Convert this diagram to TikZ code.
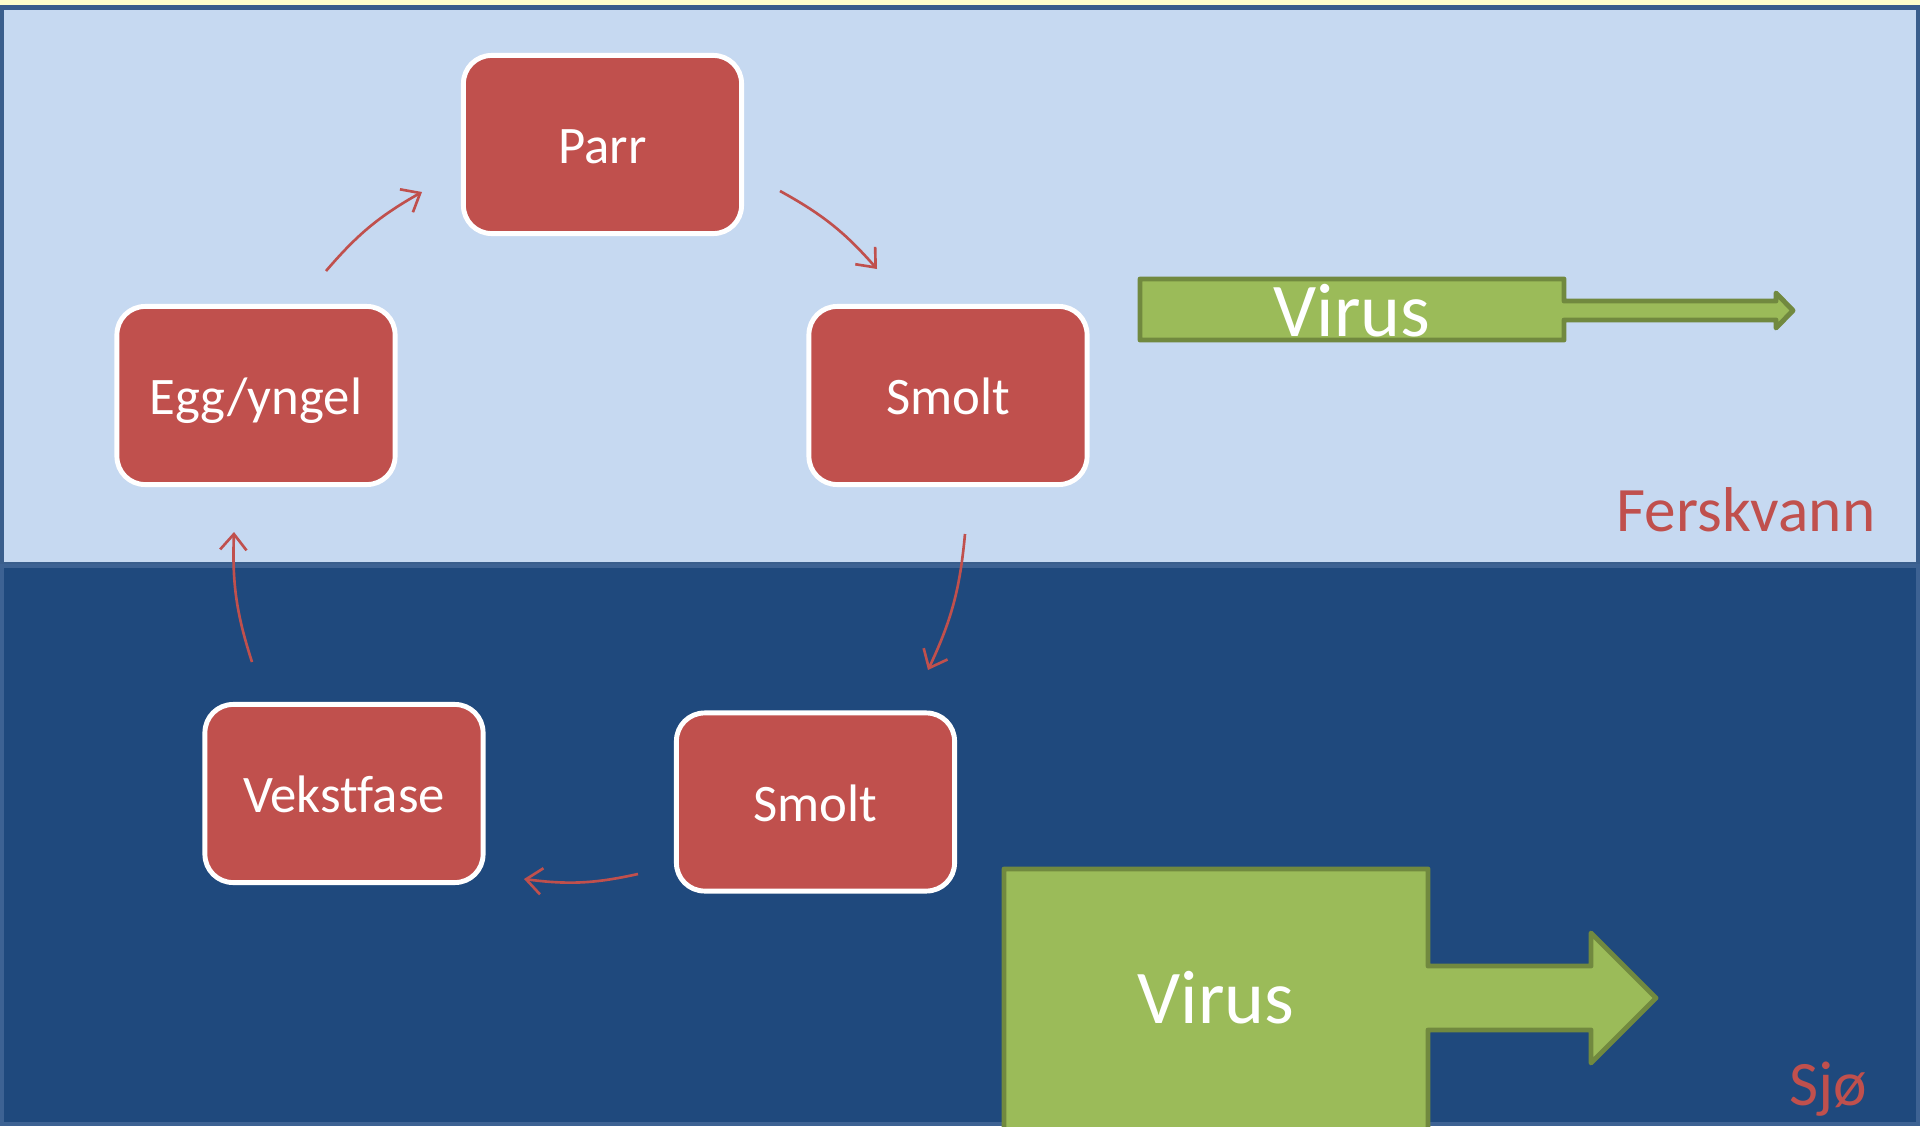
\documentclass[tikz,border=0pt]{standalone}
\usepackage{fontspec}
\setmainfont{Carlito}[Ligatures=NoCommon]
\usetikzlibrary{arrows.meta}
\definecolor{topfill}{HTML}{C6D9F1}
\definecolor{topline}{HTML}{3A5E8C}
\definecolor{seafill}{HTML}{1F497D}
\definecolor{sealine}{HTML}{3D6293}
\definecolor{stripe}{HTML}{FFFFCC}
\definecolor{stage}{HTML}{C0504D}
\definecolor{virusfill}{HTML}{9BBB59}
\definecolor{virusline}{HTML}{71893F}
\begin{document}
\begin{tikzpicture}[x=0.01cm,y=-0.01cm,
  stagebox/.style={draw=white, line width=1.4pt, fill=stage, rounded corners=8pt,
    minimum width=2.78cm, minimum height=1.78cm, text=white, inner sep=0pt,
    font=\fontsize{15pt}{18pt}\selectfont, text height=10.9pt, text depth=0pt},
  cyc/.style={draw=stage, line width=0.75pt, -{Straight Barb[length=4.5pt,width=7.5pt]}, bend left=10},
  virus/.style={fill=virusfill, draw=virusline, line width=1.4pt, line join=round},
  virustext/.style={text=white, font=\fontsize{21.6pt}{26pt}\selectfont, anchor=base, inner sep=0pt},
  zone/.style={text=stage, font=\fontsize{18pt}{22pt}\selectfont, anchor=base east, inner sep=0pt}]
\useasboundingbox (0,0) rectangle (1920,1127);
\begin{scope}
\clip (0,0) rectangle (1920,1127);
\fill[stripe] (0,0) rectangle (1920,6);
\draw[fill=topfill, draw=topline, line width=1.4pt] (1.5,7.5) rectangle (1918,564);
\draw[fill=seafill, draw=sealine, line width=1.2pt] (1.5,566) rectangle (1918,1124);
% virus arrows
\draw[virus] (1140,279) -- (1564,279) -- (1564,301) -- (1776,301) -- (1776,293) -- (1793,310.5)
  -- (1776,328) -- (1776,320) -- (1564,320) -- (1564,340) -- (1140,340) -- cycle;
\node[virustext] (v1) at (1352,336) {Virus};
\draw[virus] (1004,869) -- (1428,869) -- (1428,966) -- (1591,966) -- (1591,933) -- (1656,998)
  -- (1591,1063) -- (1591,1030) -- (1428,1030) -- (1428,1135) -- (1004,1135) -- cycle;
\node[virustext] (v2) at (1216,1023) {Virus};
\end{scope}
% stages
\node[stagebox] (parr) at (602.5,144.5) {Parr};
\node[stagebox] (egg) at (256,395.5) {Egg/yngel};
\node[stagebox] (smolt1) at (948,395.5) {Smolt};
\node[stagebox] (vekst) at (344,793.5) {Vekstfase};
\node[stagebox] (smolt2) at (815.5,802) {Smolt};
% cycle arrows
\coordinate (a1s) at (326,271); \coordinate (a1e) at (422,192);
\coordinate (a2s) at (780,191); \coordinate (a2e) at (877,269);
\coordinate (a3s) at (965,534); \coordinate (a3e) at (928,670);
\coordinate (a4s) at (638,874); \coordinate (a4e) at (524,879);
\coordinate (a5s) at (252,662); \coordinate (a5e) at (234,532);
\draw[cyc] (a1s) to (a1e);
\draw[cyc] (a2s) to (a2e);
\draw[cyc] (a3s) to (a3e);
\draw[cyc] (a4s) to (a4e);
\draw[cyc] (a5s) to (a5e);
% zone labels
\node[zone] (fersk) at (1876,531) {Ferskvann};
\node[zone] (sjo) at (1868,1105) {Sjø};
\end{tikzpicture}
\end{document}
